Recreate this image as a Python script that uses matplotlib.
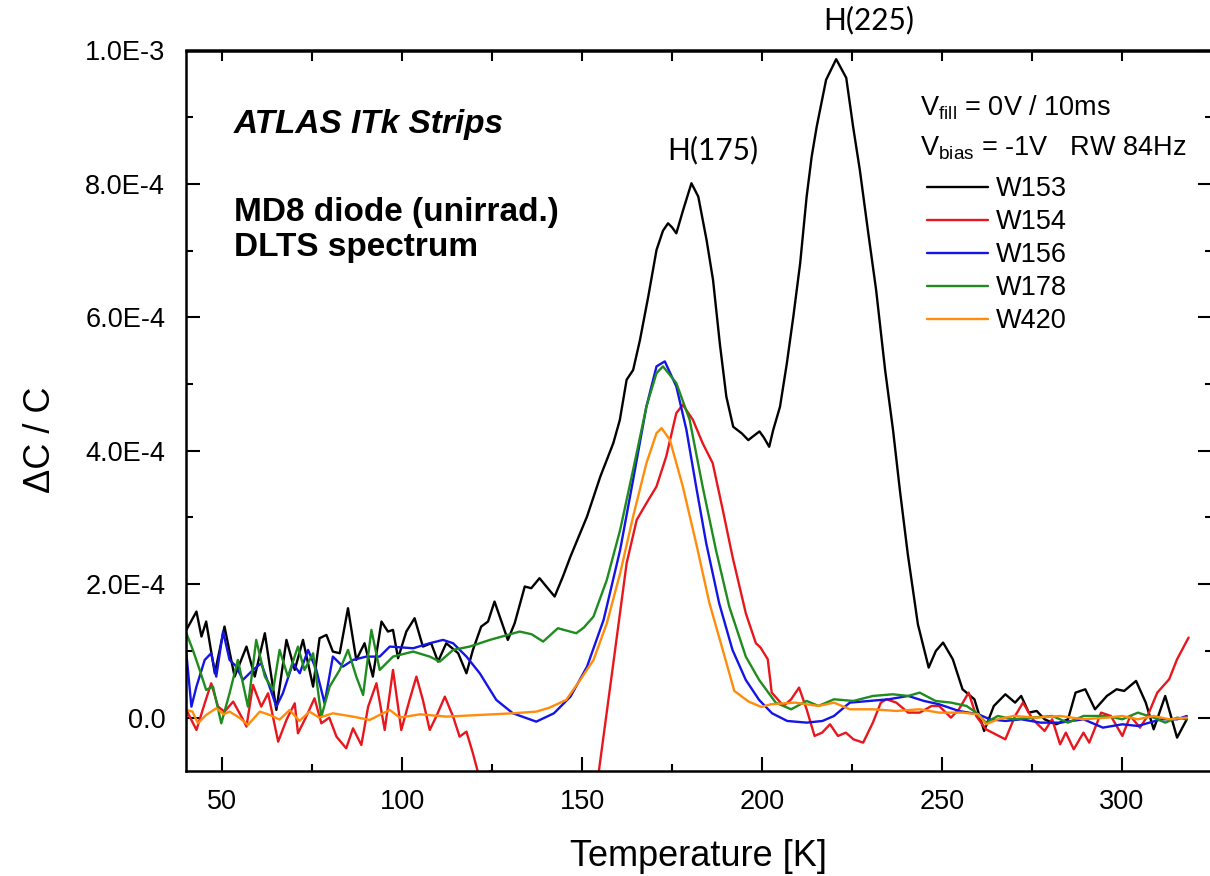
import numpy as np
import matplotlib
matplotlib.use("Agg")
import matplotlib.pyplot as plt
from matplotlib import font_manager

# ---------------- data (ΔC/C in units of 1e-4) ----------------
T_W153 = [40.1, 42.9, 44.3, 45.6, 48.0, 50.7, 53.5, 56.8, 59.1, 61.9, 65.1, 67.9, 70.2, 72.5, 75.3,
          77.1, 79.0, 80.8, 82.7, 85.0, 87.3, 89.6, 91.9, 94.3, 96.1, 97.5, 98.9, 101.2, 103.5, 105.8,
          108.1, 110.0, 112.3, 115.6, 117.9, 119.7, 122.0, 123.9, 125.7, 129.4, 131.3, 134.1, 135.9,
          138.2, 140.1, 142.4, 144.7, 146.8, 151.4, 155.1, 158.7, 160.5, 162.4, 164.2, 166.1, 168.4,
          170.7, 172.5, 173.9, 175.0, 176.2, 178.1, 180.4, 182.3, 184.6, 186.4, 188.3, 190.1, 192.0,
          194.4, 196.2, 197.6, 199.3, 200.5, 202.0, 203.1, 205.0, 206.9, 208.7, 210.6, 212.4, 213.8,
          215.2, 217.8, 220.6, 223.4, 225.3, 227.2, 229.4, 231.7, 234.2, 236.4, 238.3, 240.5, 243.3,
          246.3, 248.3, 250.3, 253.0, 255.7, 259.0, 261.7, 264.4, 267.6, 270.3, 272.0, 274.1, 276.3,
          278.5, 281.7, 285.0, 287.1, 289.8, 292.5, 295.8, 298.5, 300.6, 303.9, 306.6, 308.8, 312.0,
          315.3, 318.0]
V_W153 = [1.315, 1.59, 1.215, 1.44, 0.665, 1.365, 0.615, 1.065, 0.615, 1.265, 0.115, 1.165, 0.715, 1.165, 0.465,
          1.19, 1.24, 0.99, 0.965, 1.64, 0.865, 1.115, 0.615, 1.44, 1.29, 1.315, 0.89, 1.29, 1.49, 1.065,
          1.115, 0.84, 1.115, 0.965, 0.665, 1.015, 1.365, 1.44, 1.74, 1.165, 1.415, 1.965, 1.94,
          2.09, 1.965, 1.815, 2.115, 2.415, 3.015, 3.615, 4.115, 4.46, 5.065, 5.21, 5.66, 6.31,
          7.01, 7.3, 7.41, 7.35, 7.26, 7.61, 8.01, 7.81, 7.16, 6.56, 5.6, 4.81, 4.36,
          4.26, 4.16, 4.22, 4.29, 4.2, 4.06, 4.31, 4.66, 5.31, 6.01, 6.81, 7.81, 8.41,
          8.86, 9.56, 9.87, 9.59, 8.86, 8.2, 7.31, 6.41, 5.21, 4.31, 3.41, 2.45, 1.4,
          0.75, 1.0, 1.125, 0.875, 0.425, 0.275, -0.2, 0.175, 0.35, 0.225, 0.325, 0.075, 0.1,
          -0.025, -0.1, -0.025, 0.375, 0.425, 0.125, 0.325, 0.425, 0.4, 0.55, 0.225, -0.175, 0.325,
          -0.3, -0.025]

T_W154 = [40.1, 42.9, 45.2, 47.0, 48.9, 50.7, 53.1, 55.4, 56.8, 58.6, 60.9, 62.8, 65.6, 67.9, 70.2,
          71.1, 73.4, 75.7, 77.6, 79.8, 81.8, 84.5, 86.4, 88.7, 90.6, 92.9, 95.2, 97.5, 99.8, 102.1,
          104.0, 105.8, 107.7, 109.5, 111.9, 114.2, 116.0, 117.9, 119.7, 121.0, 122.5, 124.4, 126.0,
          130.0, 140.0, 150.0, 154.6, 158.7, 162.4, 165.2, 167.9, 170.7, 173.4, 176.2, 178.0, 180.8,
          183.5, 186.3, 189.1, 191.8, 195.5, 198.3, 199.6, 201.6, 202.7, 206.0, 208.1, 210.3, 212.4,
          214.6, 216.7, 218.9, 221.1, 223.3, 225.4, 228.1, 230.8, 233.0, 234.6, 237.3, 240.6, 243.8,
          247.1, 249.2, 252.5, 254.7, 257.4, 259.5, 262.2, 264.9, 267.6, 270.3, 272.5, 275.2, 278.5,
          280.6, 282.8, 284.4, 286.6, 289.3, 290.9, 294.2, 296.9, 300.1, 302.3, 305.0, 307.1, 309.8,
          313.1, 315.3, 318.5]
V_W154 = [0.115, -0.185, 0.215, 0.515, 0.165, 0.09, 0.24, 0.015, -0.135, 0.49, 0.165, 0.365, -0.36, -0.035, 0.215,
          -0.235, 0.015, 0.29, -0.085, 0.0, -0.285, -0.46, -0.16, -0.41, 0.165, 0.515, -0.185, 0.715, -0.185, 0.265,
          0.615, 0.265, -0.185, 0.015, 0.315, 0.015, -0.285, -0.21, -0.535, -0.8, -1.0, -0.8, -1.1,
          -2.0, -3.0, -2.7, -0.835, 0.815, 2.315, 2.965, 3.215, 3.465, 3.915, 4.565, 4.69, 4.465,
          4.115, 3.815, 3.115, 2.415, 1.565, 1.115, 1.05, 0.875, 0.375, 0.175, 0.275, 0.45, 0.125,
          -0.275, -0.225, -0.1, -0.275, -0.225, -0.325, -0.375, -0.075, 0.225, 0.275, 0.225, 0.075, 0.075,
          0.175, 0.175, 0.0, 0.125, 0.375, 0.025, -0.175, -0.25, -0.325, 0.025, 0.225, -0.025, -0.2,
          -0.025, -0.4, -0.225, -0.475, -0.225, -0.375, 0.075, 0.025, -0.275, 0.025, -0.15, 0.025, 0.375,
          0.575, 0.875, 1.2]

T_W156 = [40.1, 41.5, 42.9, 45.2, 47.0, 48.4, 50.3, 52.1, 54.0, 55.8, 58.6, 60.9, 63.2, 65.1, 66.9,
          69.7, 71.6, 73.9, 76.2, 78.5, 80.8, 83.6, 86.4, 90.1, 93.8, 96.6, 103.1, 107.7, 111.4, 114.2,
          117.9, 121.6, 126.2, 130.8, 137.3, 142.2, 146.8, 151.4, 156.0, 160.6, 164.2, 167.9, 170.7,
          173.0, 176.2, 179.0, 181.7, 184.5, 188.1, 191.8, 195.5, 199.2, 202.8, 207.0, 212.4, 216.8,
          220.0, 224.4, 229.8, 235.2, 240.6, 245.0, 249.2, 254.7, 260.1, 263.3, 267.6, 272.0, 277.4,
          282.8, 289.3, 294.7, 300.1, 304.4, 307.6, 310.9, 315.3, 318.0]
V_W156 = [0.965, 0.165, 0.465, 0.865, 0.965, 0.615, 1.29, 0.865, 0.765, 0.565, 0.715, 0.815, 0.465, 0.165, 0.365,
          0.815, 0.665, 1.015, 0.715, 0.215, 0.915, 0.765, 0.865, 0.915, 0.915, 1.065, 1.04, 1.115, 1.165, 1.115,
          0.915, 0.665, 0.265, 0.065, -0.06, 0.065, 0.315, 0.765, 1.465, 2.515, 3.565, 4.665, 5.265,
          5.34, 4.965, 4.315, 3.465, 2.615, 1.715, 1.015, 0.565, 0.265, 0.065, -0.05, -0.075, -0.05,
          0.025, 0.225, 0.25, 0.275, 0.325, 0.25, 0.2, 0.1, 0.05, -0.025, -0.05, -0.025, -0.075,
          -0.075, -0.025, -0.15, -0.1, -0.125, -0.075, -0.025, -0.025, 0.025]

T_W178 = [40.1, 41.9, 43.8, 45.6, 47.5, 49.8, 52.1, 54.4, 57.2, 59.5, 61.9, 64.2, 66.0, 68.3, 71.1,
          72.9, 75.3, 77.6, 79.9, 82.7, 85.0, 87.3, 89.2, 91.5, 93.8, 97.5, 103.1, 107.7, 110.5, 114.2,
          118.8, 124.4, 132.7, 136.0, 139.2, 143.3, 148.4, 150.5, 153.2, 156.9, 160.6, 164.2, 167.9,
          170.7, 172.5, 176.2, 179.9, 183.5, 187.2, 190.9, 195.5, 199.2, 203.8, 208.1, 212.4, 215.7,
          220.0, 225.4, 230.8, 236.3, 240.6, 243.8, 248.2, 252.5, 256.8, 259.5, 262.2, 265.5, 269.8,
          275.2, 280.6, 285.0, 289.3, 295.8, 300.1, 304.4, 308.8, 312.0, 315.3, 318.0]
V_W178 = [1.265, 1.015, 0.715, 0.415, 0.465, -0.085, 0.365, 0.865, 0.165, 1.165, 0.615, 0.415, 1.015, 0.615, 1.065,
          0.715, 0.965, 0.015, 0.465, 0.715, 1.015, 0.615, 0.34, 1.315, 0.715, 0.915, 0.99, 0.915, 0.84, 1.015,
          1.065, 1.165, 1.29, 1.25, 1.14, 1.34, 1.265, 1.35, 1.515, 2.065, 2.815, 3.715, 4.665,
          5.165, 5.265, 5.015, 4.465, 3.465, 2.515, 1.665, 0.915, 0.565, 0.225, 0.125, 0.25, 0.175,
          0.275, 0.25, 0.325, 0.35, 0.325, 0.375, 0.25, 0.225, 0.175, 0.075, -0.075, 0.025, -0.025,
          0.0, 0.025, -0.075, 0.025, 0.025, -0.025, 0.075, 0.0, -0.075, 0.0, -0.025]

T_W420 = [40.1, 41.8, 43.3, 45.6, 48.4, 50.5, 52.1, 54.8, 57.2, 60.5, 63.3, 66.0, 68.8, 71.5, 74.3,
          77.0, 80.8, 86.4, 91.0, 96.6, 99.4, 105.0, 112.4, 121.6, 130.8, 137.3, 141.0, 145.6, 149.5,
          153.2, 156.9, 160.6, 164.2, 167.9, 170.7, 172.1, 174.4, 178.0, 181.7, 185.4, 189.1, 192.3,
          196.3, 199.8, 202.4, 209.2, 215.7, 220.0, 224.4, 230.8, 237.3, 243.8, 249.2, 255.7, 260.1,
          262.2, 265.5, 269.8, 276.3, 282.8, 289.3, 295.8, 300.1, 304.4, 308.8, 313.1, 318.0]
V_W420 = [0.115, 0.09, -0.085, 0.04, 0.14, 0.05, 0.09, 0.0, -0.11, 0.09, 0.04, -0.03, 0.115, -0.05, 0.09,
          0.0, 0.065, 0.015, -0.035, 0.115, 0.0, 0.05, 0.015, 0.04, 0.065, 0.09, 0.15, 0.265, 0.565,
          0.865, 1.415, 2.165, 3.015, 3.815, 4.265, 4.34, 4.165, 3.465, 2.615, 1.715, 1.015, 0.4,
          0.24, 0.16, 0.2, 0.225, 0.175, 0.225, 0.125, 0.125, 0.1, 0.125, 0.075, 0.075, 0.05,
          -0.1, -0.025, 0.025, 0.0, 0.025, -0.025, 0.0, 0.025, -0.025, 0.025, -0.025, 0.0]

series_names = ["W153", "W154", "W156", "W178", "W420"]
series_T = [T_W153, T_W154, T_W156, T_W178, T_W420]
series_V = [V_W153, V_W154, V_W156, V_W178, V_W420]
series_colors = ["#000000", "#e8161d", "#1414e6", "#1e8c1e", "#ff8c0a"]
UNIT = 1e-4

xticks_major = [50, 100, 150, 200, 250, 300]
xticks_minor = [75, 125, 175, 225, 275]
yticks_major = [0.0, 2e-4, 4e-4, 6e-4, 8e-4, 1e-3]
ytick_labels = ["0.0", "2.0E-4", "4.0E-4", "6.0E-4", "8.0E-4", "1.0E-3"]
yticks_minor = [1e-4, 3e-4, 5e-4, 7e-4, 9e-4]

# ---------------- fonts ----------------
avail = {f.name for f in font_manager.fontManager.ttflist}
def pick(*names):
    for n in names:
        if n in avail:
            return n
    return "DejaVu Sans"

SANS = pick("Liberation Sans", "Arial", "DejaVu Sans")
CAL = pick("Lato", "Open Sans", "Noto Sans")
plt.rcParams["font.family"] = [SANS, "DejaVu Sans"]
plt.rcParams["mathtext.fontset"] = "custom"
plt.rcParams["mathtext.rm"] = SANS
plt.rcParams["mathtext.it"] = SANS
plt.rcParams["axes.unicode_minus"] = False

W, H = 1210, 876
fig = plt.figure(figsize=(W / 100, H / 100), dpi=100)
L, R, TOP, BOT = 186, 1212, 50.5, 771
ax = fig.add_axes([L / W, 1 - BOT / H, (R - L) / W, (BOT - TOP) / H])

lines = []
for name, t, v, c in zip(series_names, series_T, series_V, series_colors):
    ln, = ax.plot(t, np.array(v) * UNIT, color=c, lw=1.7, label=name,
                  solid_joinstyle="round", solid_capstyle="round")
    lines.append(ln)

ax.set_xlim(40, 325)
ax.set_ylim(-0.8e-4, 1.0e-3)

for s in ax.spines.values():
    s.set_linewidth(1.8)

ax.set_xticks(xticks_major)
ax.set_xticks(xticks_minor, minor=True)
ax.set_yticks(yticks_major, ytick_labels)
ax.set_yticks(yticks_minor, minor=True)
ax.tick_params(axis="both", which="both", direction="in", width=1.5, top=False, right=True)
ax.tick_params(axis="both", which="major", length=10)
ax.tick_params(axis="both", which="minor", length=5)
ax.tick_params(axis="y", which="major", labelsize=19.5, pad=15)
ax.tick_params(axis="x", which="major", labelsize=19.5, pad=13)

sec = ax.secondary_xaxis("top")
sec.set_xticks(list(range(50, 325, 25)))
sec.tick_params(direction="in", length=8, width=1.5, labeltop=False)
sec.spines["top"].set_linewidth(1.8)

ax.set_xlabel("Temperature [K]", fontsize=26)
ax.xaxis.set_label_coords(0.5, -0.095)
ax.set_ylabel("ΔC / C", fontsize=26)
ax.yaxis.set_label_coords(-0.125, 0.46)

def fx(px):
    return px / W
def fy(py):
    return 1 - py / H

fig.text(fx(234), fy(133), "ATLAS ITk Strips", fontsize=24, fontweight="bold", fontstyle="italic", va="baseline")
fig.text(fx(234), fy(221), "MD8 diode (unirrad.)", fontsize=24, fontweight="bold", va="baseline")
fig.text(fx(234), fy(256), "DLTS spectrum", fontsize=24, fontweight="bold", va="baseline")

fig.text(fx(713), fy(150), "H(175)", family=CAL, fontsize=21.5, ha="center", va="center")
fig.text(fx(869), fy(20), "H(225)", family=CAL, fontsize=21.5, ha="center", va="center")

fig.text(fx(920), fy(115), r"V$_{\mathregular{fill}}$ = 0V / 10ms", fontsize=19.5, va="baseline")
fig.text(fx(920), fy(156), r"V$_{\mathregular{bias}}$ = -1V   RW 84Hz", fontsize=19.5, va="baseline")

ax.legend(handles=lines, loc="upper left", bbox_to_anchor=(fx(927), fy(176)),
          bbox_transform=fig.transFigure, frameon=False, fontsize=19.5,
          handlelength=2.25, handletextpad=0.28, labelspacing=0.26,
          borderpad=0, borderaxespad=0)

fig.savefig("out.png", dpi=100)
